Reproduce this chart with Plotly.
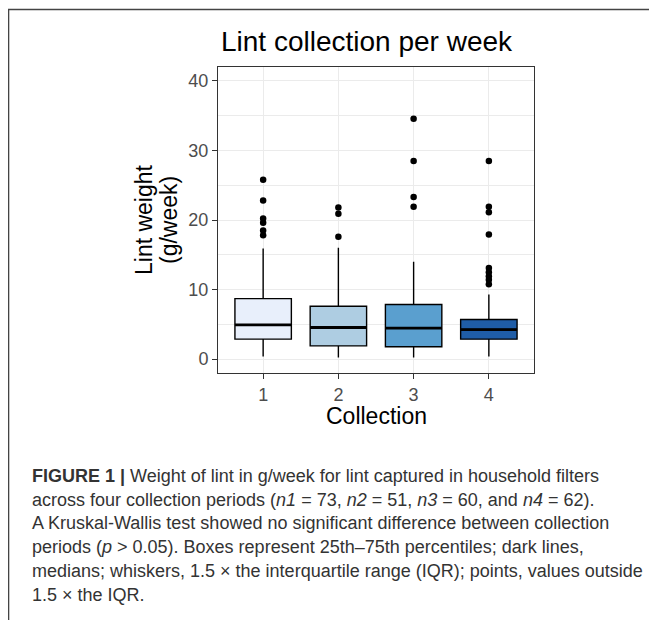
import plotly.graph_objects as go

# ---------------- data ----------------
categories = ["1", "2", "3", "4"]
q1_vals = [2.87, 1.90, 1.77, 2.87]
median_vals = [4.92, 4.54, 4.44, 4.25]
q3_vals = [8.70, 7.60, 7.84, 5.69]
lower_whisker = [0.38, 0.24, 0.24, 0.38]
upper_whisker = [15.9, 16.0, 14.0, 9.3]
outliers_1 = [25.8, 22.8, 20.2, 19.6, 18.5, 17.8]
outliers_2 = [21.8, 20.9, 17.6]
outliers_3 = [34.55, 28.5, 23.3, 21.9]
outliers_4 = [28.5, 21.9, 21.1, 17.9, 13.1, 12.5, 11.9, 11.4, 10.75]
outliers = [outliers_1, outliers_2, outliers_3, outliers_4]
y_ticks = [0, 10, 20, 30, 40]

box_colors = ["#E8EFFB", "#AECDE2", "#5A9FCF", "#1F5DA7"]

caption_lines = [
    "<b>FIGURE 1 |</b> Weight of lint in g/week for lint captured in household filters",
    "across four collection periods (<i>n1</i> = 73, <i>n2</i> = 51, <i>n3</i> = 60, and <i>n4</i> = 62).",
    "A Kruskal-Wallis test showed no significant difference between collection",
    "periods (<i>p</i> > 0.05). Boxes represent 25th–75th percentiles; dark lines,",
    "medians; whiskers, 1.5 × the interquartile range (IQR); points, values outside",
    "1.5 × the IQR.",
]

# page has an 8px body margin: the figure starts 8px in from the window corner
OFF = 8
W, H = 657 - OFF, 620 - OFF
BOX_W = 0.75
FONT = "Liberation Sans"

def px(x):
    return (x - OFF) / W

def py(y):
    return 1 - (y - OFF) / H

positions = [i + 1 for i in range(len(categories))]

fig = go.Figure()

for i, pos in enumerate(positions):
    fig.add_trace(go.Box(
        x=[pos], q1=[q1_vals[i]], median=[median_vals[i]], q3=[q3_vals[i]],
        lowerfence=[lower_whisker[i]], upperfence=[upper_whisker[i]],
        orientation="v", width=BOX_W, whiskerwidth=0,
        fillcolor=box_colors[i], line=dict(color="black", width=1.4),
        boxpoints=False, showlegend=False, hoverinfo="skip",
    ))
    # thicker median line
    fig.add_trace(go.Scatter(
        x=[pos - BOX_W / 2, pos + BOX_W / 2], y=[median_vals[i], median_vals[i]],
        mode="lines", line=dict(color="black", width=2.8),
        showlegend=False, hoverinfo="skip",
    ))
    fig.add_trace(go.Scatter(
        x=[pos] * len(outliers[i]), y=outliers[i], mode="markers",
        marker=dict(color="black", size=6.5),
        showlegend=False, hoverinfo="skip",
    ))

axis_common = dict(
    showline=True, mirror=True, linecolor="#333333", linewidth=1,
    ticks="outside", ticklen=5, tickcolor="#333333", tickwidth=1,
    gridcolor="#EBEBEB", gridwidth=1.1, zeroline=False,
    tickfont=dict(family=FONT, size=18, color="#4D4D4D"),
)

fig.update_layout(
    width=W, height=H,
    margin=dict(l=0, r=0, t=0, b=0),
    paper_bgcolor="white", plot_bgcolor="white",
    xaxis=dict(
        domain=[px(218), px(534)], range=[0.4, 4.6],
        tickmode="array", tickvals=positions, ticktext=categories,
        **axis_common,
    ),
    yaxis=dict(
        domain=[py(373), py(67)], range=[-2, 42],
        tickmode="array", tickvals=y_ticks,
        minor=dict(tickvals=[5, 15, 25, 35], showgrid=True,
                   gridcolor="#EBEBEB", gridwidth=0.6, ticks=""),
        **axis_common,
    ),
)

annotations = [
    dict(text="Lint collection per week", x=px(367), y=py(41), xref="paper", yref="paper",
         showarrow=False, xanchor="center", yanchor="middle",
         font=dict(family=FONT, size=28, color="black")),
    dict(text="Collection", x=px(376), y=py(416), xref="paper", yref="paper",
         showarrow=False, xanchor="center", yanchor="middle",
         font=dict(family=FONT, size=23, color="black")),
    dict(text="Lint weight", x=px(144), y=py(220), xref="paper", yref="paper",
         showarrow=False, xanchor="center", yanchor="middle", textangle=-90,
         font=dict(family=FONT, size=23, color="black")),
    dict(text="(g/week)", x=px(169), y=py(220), xref="paper", yref="paper",
         showarrow=False, xanchor="center", yanchor="middle", textangle=-90,
         font=dict(family=FONT, size=23, color="black")),
]
for k, line in enumerate(caption_lines):
    annotations.append(dict(
        text=line, x=px(30), y=py(476 + 23.7 * k), xref="paper", yref="paper",
        showarrow=False, xanchor="left", yanchor="middle", align="left",
        font=dict(family=FONT, size=18, color="#333333"),
    ))
fig.update_layout(annotations=annotations)

fig.update_layout(shapes=[
    dict(type="line", xref="paper", yref="paper", x0=px(8), x1=1, y0=py(9.5), y1=py(9.5),
         line=dict(color="#444444", width=1.6)),
    dict(type="line", xref="paper", yref="paper", x0=px(8.5), x1=px(8.5), y0=py(9.5), y1=0,
         line=dict(color="#444444", width=1.6)),
])

fig.write_html("out.html", config={"displayModeBar": False})
